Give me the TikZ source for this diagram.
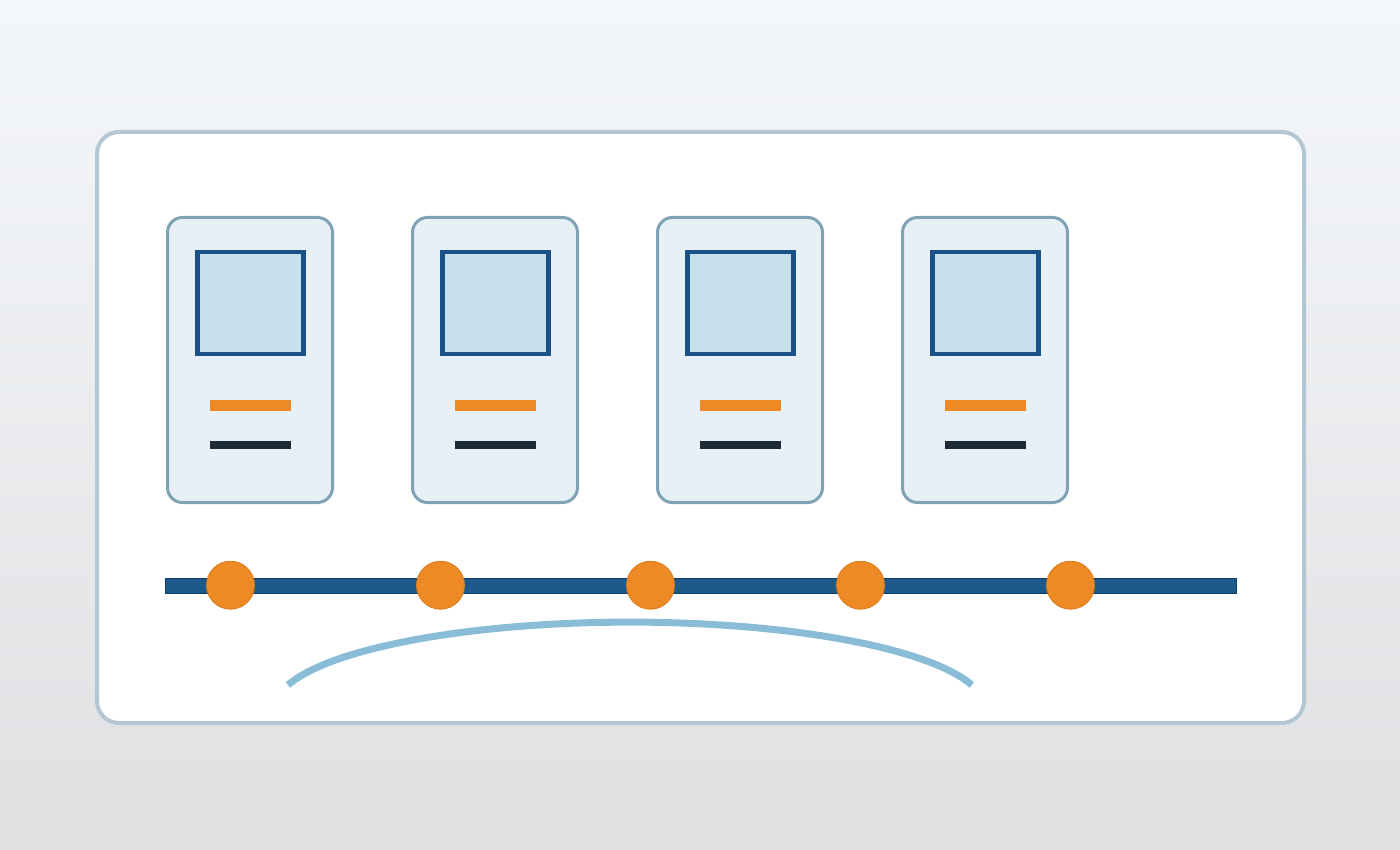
\documentclass[tikz,border=0pt]{standalone}
\begin{document}
\begin{tikzpicture}[x=1pt,y=-1pt,
  every node/.style={inner sep=0pt,outer sep=0pt},
  panel/.style={draw=panelborder,line width=4pt,fill=white,rounded corners=22pt},
  card/.style={draw=cardborder,line width=3pt,fill=cardfill,rounded corners=15pt,minimum width=165pt,minimum height=285pt},
  screen/.style={draw=screenborder,line width=4.5pt,fill=screenfill,minimum width=106pt,minimum height=102pt},
  obar/.style={fill=accent,minimum width=81pt,minimum height=11pt},
  dbar/.style={fill=darkbar,minimum width=81pt,minimum height=8.5pt},
  track/.style={fill=trackfill,draw=trackborder,line width=1pt,minimum width=1071pt,minimum height=15pt},
  dot/.style={circle,fill=accent,draw=accentdark,line width=0.8pt,minimum size=48pt},
  arcline/.style={draw=arccol,line width=7pt}
]
\definecolor{bgtop}{HTML}{F4F7FA}
\definecolor{bgbot}{HTML}{DFE0E2}
\definecolor{panelborder}{HTML}{B2C6D4}
\definecolor{cardborder}{HTML}{7FA3B4}
\definecolor{cardfill}{HTML}{E8F0F7}
\definecolor{screenborder}{HTML}{1A5186}
\definecolor{screenfill}{HTML}{C6E1EC}
\definecolor{accent}{HTML}{EE8A25}
\definecolor{accentdark}{HTML}{DA7A18}
\definecolor{darkbar}{HTML}{1E2A36}
\definecolor{trackfill}{HTML}{1D5A8A}
\definecolor{trackborder}{HTML}{0E3C6A}
\definecolor{arccol}{HTML}{89BDD7}
\useasboundingbox (0,0) rectangle (1400,850);
\shade[top color=bgtop,bottom color=bgbot] (0,0) rectangle (1400,850);
\path[panel] (97,132) rectangle (1304,723);
\foreach \i/\x in {1/250,2/495,3/740,4/985}{
  \node[card] (card\i) at (\x,360) {};
  \node[screen] (screen\i) at (\x+0.5,303) {};
  \node[obar] (obar\i) at (\x+0.5,405.7) {};
  \node[dbar] (dbar\i) at (\x+0.5,445.2) {};
}
\node[track] (track) at (700.5,585.5) {};
\foreach \i/\x in {1/230.5,2/440.5,3/650.5,4/860.5,5/1070.5}{
  \node[dot] (dot\i) at (\x,585.2) {};
}
\coordinate (arcL) at (288,685);
\coordinate (arcR) at (972,685);
\draw[arcline] (arcL) arc[start angle=195.6,end angle=344.4,x radius=355,y radius=86];
\end{tikzpicture}
\end{document}
